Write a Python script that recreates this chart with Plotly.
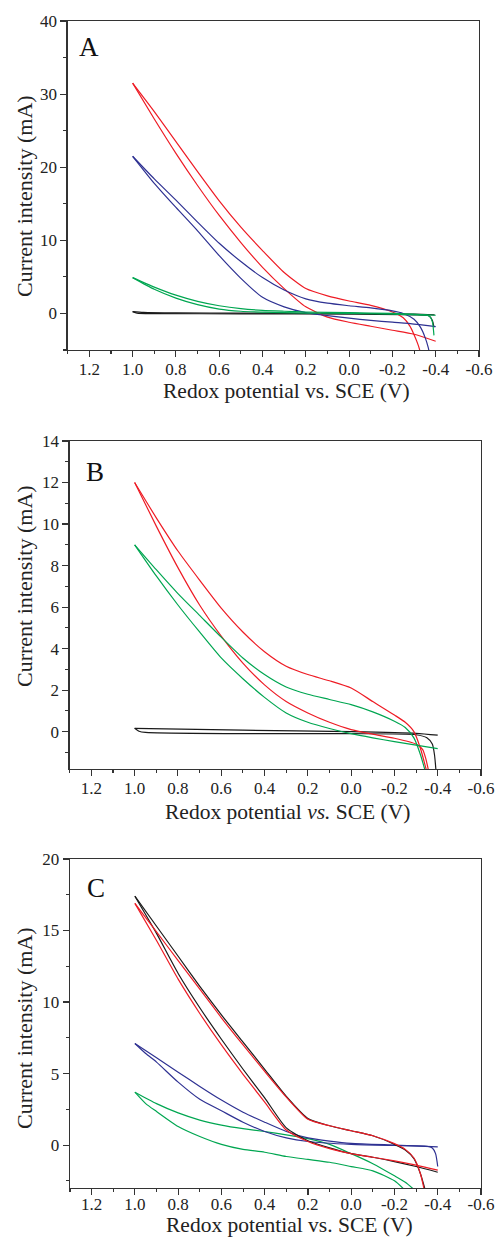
import plotly.graph_objects as go

# ---------------- data ----------------
x_tickvals = [1.2, 1.0, 0.8, 0.6, 0.4, 0.2, 0.0, -0.2, -0.4, -0.6]
x_ticktext = ["1.2", "1.0", "0.8", "0.6", "0.4", "0.2", "0.0", "-0.2", "-0.4", "-0.6"]

# Panel A
A_red_up_v = [1.0, 0.9, 0.8, 0.7, 0.6, 0.5, 0.4, 0.3, 0.2, 0.1, 0.0, -0.1, -0.2, -0.25, -0.28, -0.3, -0.32, -0.34]
A_red_up_i = [31.5, 27.6, 23.5, 19.4, 15.4, 11.8, 8.6, 5.6, 3.4, 2.4, 1.7, 1.1, 0.2, -0.6, -1.7, -2.9, -4.4, -6.5]
A_red_lo_v = [1.0, 0.9, 0.8, 0.7, 0.6, 0.5, 0.4, 0.3, 0.2, 0.1, 0.0, -0.1, -0.2, -0.3, -0.4]
A_red_lo_i = [31.5, 26.6, 21.9, 17.5, 13.4, 9.7, 6.3, 3.4, 0.9, -0.5, -1.2, -1.75, -2.3, -2.85, -3.8]
A_blue_up_v = [1.0, 0.9, 0.8, 0.7, 0.6, 0.5, 0.4, 0.3, 0.2, 0.1, 0.0, -0.1, -0.2, -0.25, -0.3, -0.33, -0.35, -0.365, -0.375]
A_blue_up_i = [21.5, 18.4, 15.5, 12.5, 9.6, 7.1, 4.9, 3.2, 2.0, 1.4, 1.05, 0.75, 0.35, 0.0, -0.8, -1.9, -3.2, -4.6, -6.0]
A_blue_lo_v = [1.0, 0.9, 0.8, 0.7, 0.6, 0.5, 0.4, 0.3, 0.2, 0.1, 0.0, -0.1, -0.2, -0.3, -0.4]
A_blue_lo_i = [21.5, 17.8, 14.5, 11.3, 7.9, 4.8, 2.2, 0.9, 0.1, -0.3, -0.65, -0.95, -1.2, -1.45, -1.8]
A_green_up_v = [1.0, 0.9, 0.8, 0.7, 0.6, 0.5, 0.4, 0.3, 0.2, 0.0, -0.2, -0.4]
A_green_up_i = [4.9, 3.6, 2.5, 1.65, 1.05, 0.65, 0.42, 0.3, 0.2, 0.1, 0.0, -0.25]
A_green_lo_v = [1.0, 0.9, 0.8, 0.7, 0.6, 0.5, 0.4, 0.3, 0.2, 0.0, -0.2, -0.36, -0.375, -0.385, -0.392]
A_green_lo_i = [4.9, 3.3, 2.1, 1.2, 0.6, 0.3, 0.18, 0.1, 0.05, 0.0, -0.1, -0.25, -0.5, -1.2, -3.0]
A_black_up_v = [1.0, 0.95, 0.8, 0.5, 0.0, -0.3, -0.395]
A_black_up_i = [0.25, 0.15, 0.08, 0.05, 0.0, -0.1, -0.2]
A_black_lo_v = [1.0, 0.98, 0.9, 0.5, 0.0, -0.3, -0.37, -0.385, -0.392]
A_black_lo_i = [0.25, 0.05, -0.02, -0.05, -0.1, -0.2, -0.35, -1.0, -1.9]

# Panel B
B_red_up_v = [1.0, 0.9, 0.8, 0.7, 0.6, 0.5, 0.4, 0.3, 0.2, 0.1, 0.0, -0.1, -0.2, -0.25, -0.29, -0.32, -0.35]
B_red_up_i = [12.0, 10.3, 8.7, 7.3, 5.95, 4.8, 3.85, 3.15, 2.75, 2.45, 2.1, 1.45, 0.8, 0.45, 0.0, -0.8, -1.95]
B_red_lo_v = [1.0, 0.9, 0.8, 0.7, 0.6, 0.5, 0.4, 0.3, 0.2, 0.1, 0.0, -0.1, -0.2, -0.3, -0.33, -0.345, -0.36]
B_red_lo_i = [12.0, 9.9, 7.9, 6.1, 4.6, 3.3, 2.25, 1.45, 0.9, 0.45, 0.1, -0.12, -0.32, -0.6, -0.85, -1.3, -2.0]
B_green_up_v = [1.0, 0.9, 0.8, 0.7, 0.6, 0.5, 0.4, 0.3, 0.2, 0.1, 0.0, -0.1, -0.2, -0.25, -0.29, -0.32, -0.345]
B_green_up_i = [9.0, 7.8, 6.65, 5.6, 4.55, 3.55, 2.75, 2.15, 1.8, 1.55, 1.3, 0.95, 0.5, 0.2, -0.3, -1.1, -2.0]
B_green_lo_v = [1.0, 0.9, 0.8, 0.7, 0.6, 0.5, 0.4, 0.3, 0.2, 0.1, 0.0, -0.1, -0.2, -0.3, -0.4]
B_green_lo_i = [9.0, 7.5, 6.1, 4.8, 3.55, 2.55, 1.65, 0.9, 0.45, 0.15, -0.1, -0.3, -0.48, -0.65, -0.82]
B_black_up_v = [1.0, 0.5, 0.0, -0.3, -0.4]
B_black_up_i = [0.16, 0.07, 0.0, -0.08, -0.17]
B_black_lo_v = [1.0, 0.98, 0.95, 0.5, 0.0, -0.3, -0.35, -0.375, -0.385, -0.393]
B_black_lo_i = [0.16, 0.02, -0.04, -0.1, -0.1, -0.15, -0.3, -0.6, -1.1, -2.0]

# Panel C
C_black_up_v = [1.0, 0.9, 0.8, 0.7, 0.6, 0.5, 0.4, 0.3, 0.2, 0.1, 0.0, -0.1, -0.2, -0.25, -0.29, -0.32, -0.345]
C_black_up_i = [17.4, 15.3, 13.2, 11.1, 9.1, 7.2, 5.3, 3.4, 1.85, 1.35, 1.0, 0.65, 0.05, -0.35, -0.95, -2.0, -3.3]
C_red_up_v = [1.0, 0.9, 0.8, 0.7, 0.6, 0.5, 0.4, 0.3, 0.2, 0.1, 0.0, -0.1, -0.2, -0.25, -0.29, -0.32, -0.34]
C_red_up_i = [16.9, 14.9, 12.9, 10.9, 8.9, 7.0, 5.15, 3.35, 1.8, 1.35, 1.0, 0.65, 0.1, -0.3, -0.9, -2.0, -3.3]
C_black_lo_v = [1.0, 0.9, 0.8, 0.7, 0.6, 0.5, 0.4, 0.3, 0.2, 0.1, 0.0, -0.1, -0.2, -0.3, -0.4]
C_black_lo_i = [17.4, 14.8, 12.0, 9.6, 7.4, 5.3, 3.3, 1.2, 0.3, -0.2, -0.6, -0.85, -1.15, -1.5, -1.9]
C_red_lo_v = [1.0, 0.9, 0.8, 0.7, 0.6, 0.5, 0.4, 0.3, 0.2, 0.1, 0.0, -0.1, -0.2, -0.3, -0.4]
C_red_lo_i = [16.9, 14.3, 11.6, 9.2, 7.0, 4.95, 3.0, 1.05, 0.25, -0.25, -0.6, -0.85, -1.1, -1.4, -1.75]
C_blue_up_v = [1.0, 0.9, 0.8, 0.7, 0.6, 0.5, 0.4, 0.3, 0.2, 0.1, 0.0, -0.2, -0.4]
C_blue_up_i = [7.1, 6.1, 5.1, 4.1, 3.15, 2.3, 1.6, 0.95, 0.5, 0.28, 0.12, 0.0, -0.12]
C_blue_lo_v = [1.0, 0.95, 0.9, 0.8, 0.7, 0.6, 0.5, 0.4, 0.3, 0.2, 0.0, -0.2, -0.35, -0.375, -0.39, -0.4]
C_blue_lo_i = [7.1, 6.4, 5.8, 4.4, 3.2, 2.4, 1.6, 0.95, 0.5, 0.25, 0.05, -0.03, -0.08, -0.2, -0.6, -1.5]
C_green_up_v = [1.0, 0.9, 0.8, 0.7, 0.6, 0.5, 0.4, 0.3, 0.2, 0.1, 0.0, -0.1, -0.2, -0.25, -0.29]
C_green_up_i = [3.7, 2.9, 2.25, 1.75, 1.4, 1.15, 0.95, 0.72, 0.45, 0.05, -0.6, -1.3, -2.15, -2.6, -3.1]
C_green_lo_v = [1.0, 0.95, 0.9, 0.8, 0.7, 0.6, 0.5, 0.4, 0.3, 0.2, 0.1, 0.0, -0.1, -0.2, -0.245]
C_green_lo_i = [3.7, 2.9, 2.35, 1.3, 0.6, 0.05, -0.3, -0.5, -0.8, -1.0, -1.2, -1.5, -1.8, -2.5, -3.1]

panel_labels = ["A", "B", "C"]
y_ranges = [[-5, 40], [-1.8, 14], [-3, 20]]
y_tickvals = [[0, 10, 20, 30, 40], [0, 2, 4, 6, 8, 10, 12, 14], [0, 5, 10, 15, 20]]
y_minor = [5, 1, 2.5]
x_titles = ["Redox potential vs. SCE (V)", "Redox potential <i>vs.</i> SCE (V)", "Redox potential vs. SCE (V)"]
y_title = "Current intensity (mA)"

RED = "#ee1c25"
BLUE = "#2e3192"
GREEN = "#00a651"
BLACK = "#1a1a1a"

curves = [
    # (panel index, color, v, i)
    (0, BLACK, A_black_up_v, A_black_up_i), (0, BLACK, A_black_lo_v, A_black_lo_i),
    (0, RED, A_red_up_v, A_red_up_i), (0, RED, A_red_lo_v, A_red_lo_i),
    (0, BLUE, A_blue_up_v, A_blue_up_i), (0, BLUE, A_blue_lo_v, A_blue_lo_i),
    (0, GREEN, A_green_up_v, A_green_up_i), (0, GREEN, A_green_lo_v, A_green_lo_i),
    (1, BLACK, B_black_up_v, B_black_up_i), (1, BLACK, B_black_lo_v, B_black_lo_i),
    (1, RED, B_red_up_v, B_red_up_i), (1, RED, B_red_lo_v, B_red_lo_i),
    (1, GREEN, B_green_up_v, B_green_up_i), (1, GREEN, B_green_lo_v, B_green_lo_i),
    (2, GREEN, C_green_up_v, C_green_up_i), (2, GREEN, C_green_lo_v, C_green_lo_i),
    (2, BLUE, C_blue_up_v, C_blue_up_i), (2, BLUE, C_blue_lo_v, C_blue_lo_i),
    (2, BLACK, C_black_up_v, C_black_up_i), (2, BLACK, C_black_lo_v, C_black_lo_i),
    (2, RED, C_red_up_v, C_red_up_i), (2, RED, C_red_lo_v, C_red_lo_i),
]

# ---------------- layout geometry (pixels) ----------------
W, H = 497, 1238
plot_boxes = [  # left, right, top, bottom in px
    (67.7, 479.0, 21.0, 350.0),
    (69.7, 481.0, 441.0, 769.0),
    (70.0, 481.0, 859.0, 1188.0),
]
label_pos = [(89, 47), (95, 472), (96, 888)]
ytitle_pos = [(24, 196), (24, 586), (24, 1028)]
xtitle_pos = [(286, 391), (287, 812), (289, 1225)]
x_label_standoff = [-3, -3, -6]

FONT = "Liberation Serif"

fig = go.Figure()
for p, color, v, i in curves:
    sfx = "" if p == 0 else str(p + 1)
    fig.add_trace(go.Scatter(
        x=v, y=i, mode="lines", xaxis="x" + sfx, yaxis="y" + sfx,
        line=dict(color=color, width=1.2, shape="spline", smoothing=0.6),
        showlegend=False, hoverinfo="skip", cliponaxis=True,
    ))

layout = dict(
    template="none",
    width=W, height=H, autosize=False, margin=dict(l=0, r=0, t=0, b=0, pad=0),
    paper_bgcolor="white", plot_bgcolor="white",
    font=dict(family=FONT, size=17, color="#222"),
    showlegend=False, annotations=[],
)

for p in range(3):
    sfx = "" if p == 0 else str(p + 1)
    l, r, t, b = plot_boxes[p]
    common = dict(
        automargin=False,
        showline=True, linecolor="#333", linewidth=1.3, mirror=True,
        showgrid=False, zeroline=False, ticks="outside", ticklen=6,
        tickwidth=1.1, tickcolor="#333",
        tickfont=dict(family=FONT, size=17, color="#222"),
    )
    layout["xaxis" + sfx] = dict(
        common, domain=[l / W, r / W], range=[1.3, -0.6], anchor="y" + sfx,
        tickmode="array", tickvals=x_tickvals, ticktext=x_ticktext,
        ticklabelstandoff=x_label_standoff[p],
        minor=dict(tickmode="linear", tick0=0, dtick=0.1, ticks="outside", ticklen=3, tickcolor="#333", showgrid=False),
    )
    layout["yaxis" + sfx] = dict(
        common, domain=[1 - b / H, 1 - t / H], range=y_ranges[p], anchor="x" + sfx,
        tickmode="array", tickvals=y_tickvals[p], ticktext=[str(v) for v in y_tickvals[p]],
        minor=dict(tickmode="linear", tick0=0, dtick=y_minor[p], ticks="outside", ticklen=3, tickcolor="#333", showgrid=False),
    )
    lx, ly = label_pos[p]
    layout["annotations"].append(dict(
        text=panel_labels[p], x=lx / W, y=1 - ly / H, xref="paper", yref="paper",
        xanchor="center", yanchor="middle", showarrow=False,
        font=dict(family=FONT, size=27, color="#111"),
    ))
    tx, ty = ytitle_pos[p]
    layout["annotations"].append(dict(
        text=y_title, x=tx / W, y=1 - ty / H, xref="paper", yref="paper",
        xanchor="center", yanchor="middle", showarrow=False, textangle=-90,
        font=dict(family=FONT, size=22, color="#222"),
    ))
    tx, ty = xtitle_pos[p]
    layout["annotations"].append(dict(
        text=x_titles[p], x=tx / W, y=1 - ty / H, xref="paper", yref="paper",
        xanchor="center", yanchor="middle", showarrow=False,
        font=dict(family=FONT, size=21.5, color="#222"),
    ))

fig.update_layout(**layout)
fig.write_html(
    "out.html",
    config={"responsive": False, "displayModeBar": False, "staticPlot": True},
    post_script=(
        "document.documentElement.style.margin='0px';"
        "document.documentElement.style.overflow='hidden';"
        "document.body.style.margin='0px';document.body.style.padding='0px';"
        "document.body.style.overflow='hidden';"
    ),
)
